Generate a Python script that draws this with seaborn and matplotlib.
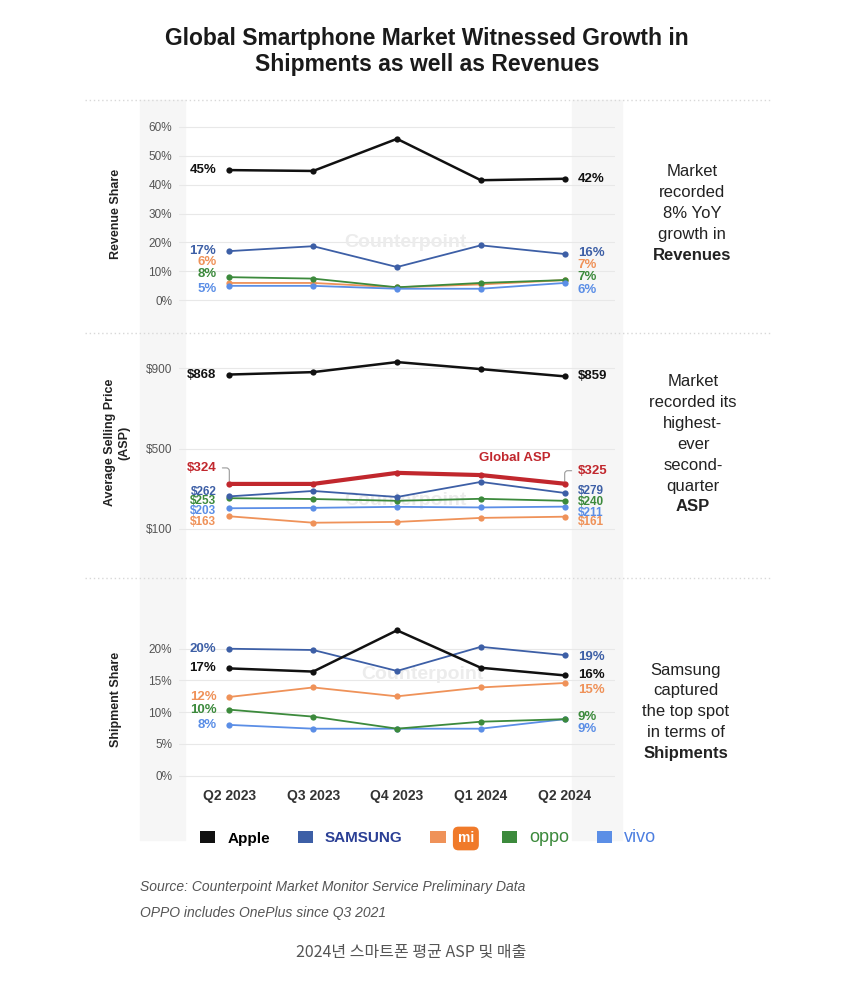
import numpy as np
import pandas as pd
import matplotlib
matplotlib.use("Agg")
import matplotlib.pyplot as plt
import seaborn as sns
from matplotlib.patches import Rectangle, Patch
from matplotlib.lines import Line2D

quarters = ["Q2 2023", "Q3 2023", "Q4 2023", "Q1 2024", "Q2 2024"]
brands = ["Apple", "Samsung", "Xiaomi", "OPPO", "vivo"]

# revenue share (%)
rev_apple = [45, 44.7, 55.8, 41.5, 42]
rev_samsung = [17, 18.7, 11.5, 19, 16]
rev_xiaomi = [6, 6, 4.5, 5.5, 7]
rev_oppo = [8, 7.5, 4.5, 6, 7]
rev_vivo = [5, 5, 4, 4, 6]

# average selling price (USD)
asp_apple = [868, 880, 930, 895, 859]
asp_samsung = [262, 289, 259, 334, 279]
asp_xiaomi = [163, 131, 135, 155, 161]
asp_oppo = [253, 249, 240, 250, 240]
asp_vivo = [203, 205, 210, 207, 211]
asp_global = [324, 324, 379, 368, 325]

# shipment share (%)
ship_apple = [16.9, 16.4, 22.9, 17, 15.8]
ship_samsung = [20, 19.8, 16.5, 20.3, 19]
ship_xiaomi = [12.4, 13.9, 12.5, 13.9, 14.6]
ship_oppo = [10.4, 9.3, 7.4, 8.5, 8.9]
ship_vivo = [8, 7.4, 7.4, 7.4, 8.9]

colors = {"Apple": "#111111", "Samsung": "#3d5fa6", "Xiaomi": "#ef9259",
          "OPPO": "#3c8a3c", "vivo": "#5b8ee6", "Global": "#c1272d"}

W, H = 850, 986
sns.set_theme(style="white")
plt.rcParams["font.family"] = ["Liberation Sans", "DejaVu Sans"]

fig = plt.figure(figsize=(W / 100, H / 100), dpi=100)


def fx(px):
    return px / W


def fy(py):
    return 1 - py / H


# soft grey side bands of the slide (behind the axes)
for x0, x1 in [(140, 185), (572, 622)]:
    fig.patches.append(Rectangle((fx(x0), fy(840)), fx(x1 - x0), 740 / H,
                                 transform=fig.transFigure, color="#f6f6f6", zorder=-2))
# dotted separators
for py in [100, 333, 578]:
    fig.lines.append(Line2D([fx(85), fx(770)], [fy(py), fy(py)], transform=fig.transFigure,
                            color="#d8d8d8", lw=1, ls=(0, (1, 2)), zorder=-1))


def make_panel(rect, series, ylim, yticks, yticklabels, ylabel, label_x):
    ax = fig.add_axes(rect)
    ax.patch.set_alpha(0)
    x = np.arange(len(quarters))
    for name, vals in series:
        df = pd.DataFrame({"q": x, "v": vals})
        lw = 1.8 if name == "Apple" else (3.0 if name == "Global" else 1.3)
        sns.lineplot(data=df, x="q", y="v", ax=ax, color=colors[name], lw=lw,
                     marker="o", markersize=4.5, markeredgewidth=0,
                     zorder=5 if name == "Global" else 3)
    ax.set_xlim(-0.6, 4.6)
    ax.set_ylim(*ylim)
    ax.set_yticks(yticks)
    ax.set_yticklabels(yticklabels, fontsize=8.5, color="#555555")
    ax.tick_params(axis="y", length=0, pad=5)
    ax.grid(axis="y", color="#e8e8e8", lw=0.8)
    ax.grid(axis="x", visible=False)
    for s in ax.spines.values():
        s.set_visible(False)
    ax.set_xticks(x)
    ax.set_xticklabels([])
    ax.tick_params(axis="x", length=0)
    ax.set_xlabel("")
    ax.set_ylabel(ylabel, fontsize=9, fontweight="bold", color="#222222")
    ax.yaxis.set_label_coords(label_x, 0.5)
    return ax


def end_label(ax, i, val, text, color, dy=0, side="left", leader=False, fs=9.5):
    dx = -13 if side == "left" else 13
    ha = "right" if side == "left" else "left"
    kw = {}
    if leader:
        kw["arrowprops"] = dict(arrowstyle="-", color="#999999", lw=0.8,
                                connectionstyle="angle,angleA=0,angleB=90,rad=3")
    ax.annotate(text, xy=(i, val), xytext=(dx, dy), textcoords="offset pixels",
                ha=ha, va="center", fontsize=fs, fontweight="bold", color=color,
                annotation_clip=False, **kw)


# Panel 1: revenue share
ax1 = make_panel([fx(179), fy(309), fx(436), 191 / H],
                 [("Samsung", rev_samsung), ("Xiaomi", rev_xiaomi), ("OPPO", rev_oppo),
                  ("vivo", rev_vivo), ("Apple", rev_apple)],
                 (-3, 63), range(0, 61, 10), [f"{v}%" for v in range(0, 61, 10)],
                 "Revenue Share", -0.131)
ax1.text(2.1, 20, "Counterpoint", fontsize=14, fontweight="bold", color="#ececec",
         ha="center", va="center", zorder=1)
left1 = [("Apple", rev_apple, 0), ("Samsung", rev_samsung, 0), ("Xiaomi", rev_xiaomi, 21),
         ("OPPO", rev_oppo, 3), ("vivo", rev_vivo, -3)]
right1 = [("Apple", rev_apple, 0), ("Samsung", rev_samsung, 1), ("Xiaomi", rev_xiaomi, 15),
          ("OPPO", rev_oppo, 3), ("vivo", rev_vivo, -7)]
for name, vals, dy in left1:
    end_label(ax1, 0, vals[0], f"{round(vals[0])}%", colors[name], dy, "left")
for name, vals, dy in right1:
    end_label(ax1, 4, vals[-1], f"{round(vals[-1])}%", colors[name], dy, "right")

# Panel 2: ASP
ax2 = make_panel([fx(179), fy(537), fx(436), 189 / H],
                 [("Xiaomi", asp_xiaomi), ("vivo", asp_vivo), ("OPPO", asp_oppo),
                  ("Samsung", asp_samsung), ("Global", asp_global), ("Apple", asp_apple)],
                 (60, 1000), [100, 500, 900], ["$100", "$500", "$900"],
                 "Average Selling Price\n(ASP)", -0.112)
ax2.text(2.1, 240, "Counterpoint", fontsize=14, fontweight="bold", color="#ececec",
         ha="center", va="center", zorder=1)
ax2.text(3.4, 453, "Global ASP", fontsize=9.5, fontweight="bold", color=colors["Global"],
         ha="center", va="center")
# the small-brand labels sit tightly stacked, as in the source slide
left2 = [("Apple", asp_apple, 0, False, 9.5), ("Global", asp_global, 16, True, 9.5),
         ("Samsung", asp_samsung, 4, False, 8.5), ("OPPO", asp_oppo, -3, False, 8.5),
         ("vivo", asp_vivo, -3, False, 8.5), ("Xiaomi", asp_xiaomi, -6, False, 8.5)]
right2 = [("Apple", asp_apple, 0, False, 9.5), ("Global", asp_global, 13, True, 9.5),
          ("Samsung", asp_samsung, 2, False, 8.5), ("OPPO", asp_oppo, -1, False, 8.5),
          ("vivo", asp_vivo, -6, False, 8.5), ("Xiaomi", asp_xiaomi, -5, False, 8.5)]
for name, vals, dy, ld, fs in left2:
    end_label(ax2, 0, vals[0], f"${vals[0]}", colors[name], dy, "left", ld, fs)
for name, vals, dy, ld, fs in right2:
    end_label(ax2, 4, vals[-1], f"${vals[-1]}", colors[name], dy, "right", ld, fs)

# Panel 3: shipment share
ax3 = make_panel([fx(179), fy(782), fx(436), 165 / H],
                 [("vivo", ship_vivo), ("OPPO", ship_oppo), ("Xiaomi", ship_xiaomi),
                  ("Samsung", ship_samsung), ("Apple", ship_apple)],
                 (-1, 25), range(0, 21, 5), [f"{v}%" for v in range(0, 21, 5)],
                 "Shipment Share", -0.131)
ax3.text(2.3, 16, "Counterpoint", fontsize=14, fontweight="bold", color="#ececec",
         ha="center", va="center", zorder=1)
ax3.set_xticklabels(quarters, fontsize=10, fontweight="bold", color="#333333")
ax3.tick_params(axis="x", pad=5)
left3 = [("Samsung", ship_samsung, 0), ("Apple", ship_apple, 0), ("Xiaomi", ship_xiaomi, 0),
         ("OPPO", ship_oppo, 0), ("vivo", ship_vivo, 0)]
right3 = [("Samsung", ship_samsung, -2), ("Apple", ship_apple, 0), ("Xiaomi", ship_xiaomi, -7),
          ("OPPO", ship_oppo, 2), ("vivo", ship_vivo, -10)]
for name, vals, dy in left3:
    end_label(ax3, 0, vals[0], f"{round(vals[0])}%", colors[name], dy, "left")
for name, vals, dy in right3:
    end_label(ax3, 4, vals[-1], f"{round(vals[-1])}%", colors[name], dy, "right")

# title
fig.text(fx(427), fy(38), "Global Smartphone Market Witnessed Growth in", ha="center",
         va="center", fontsize=16.5, fontweight="bold", color="#1a1a1a")
fig.text(fx(427), fy(64), "Shipments as well as Revenues", ha="center",
         va="center", fontsize=16.5, fontweight="bold", color="#1a1a1a")

# right-hand notes
notes = [
    (692, 172, ["Market", "recorded", "8% YoY", "growth in", "Revenues"]),
    (693, 382, ["Market", "recorded its", "highest-", "ever", "second-", "quarter", "ASP"]),
    (686, 670, ["Samsung", "captured", "the top spot", "in terms of", "Shipments"]),
]
for x0, y0, lines in notes:
    for k, line in enumerate(lines):
        fig.text(fx(x0), fy(y0 + 20.8 * k), line, ha="center", va="center", fontsize=12,
                 color="#222222", fontweight="bold" if k == len(lines) - 1 else "normal")

# legend
handles = [Patch(facecolor=colors[b], edgecolor="none") for b in brands]
leg = fig.legend(handles, ["Apple", "SAMSUNG", "mi", "oppo", "vivo"], ncol=5, frameon=False,
                 loc="center", bbox_to_anchor=(fx(428), fy(838)), handlelength=1.0,
                 handleheight=0.8, columnspacing=1.8, handletextpad=0.8, fontsize=11)
leg_style = [("#000000", "bold", 11), ("#2a3f95", "bold", 11), ("white", "bold", 10),
             ("#3c8a3c", "normal", 13), ("#4d7fe0", "normal", 13)]
for t, (c, wgt, fs) in zip(leg.get_texts(), leg_style):
    t.set_color(c)
    t.set_fontweight(wgt)
    t.set_fontsize(fs)
leg.get_texts()[2].set_bbox(dict(boxstyle="round,pad=0.35,rounding_size=0.4",
                                 facecolor="#f07a2a", edgecolor="none"))

# source notes
fig.text(fx(140), fy(887), "Source: Counterpoint Market Monitor Service Preliminary Data",
         fontsize=10, style="italic", color="#555555", va="center")
fig.text(fx(140), fy(913), "OPPO includes OnePlus since Q3 2021",
         fontsize=10, style="italic", color="#555555", va="center")
fig.text(fx(411), fy(952), "2024년 스마트폰 평균 ASP 및 매출", ha="center", va="center",
         fontsize=11.5, color="#555555", family=["Noto Sans CJK KR", "DejaVu Sans"])

fig.savefig("out.png", dpi=100)
